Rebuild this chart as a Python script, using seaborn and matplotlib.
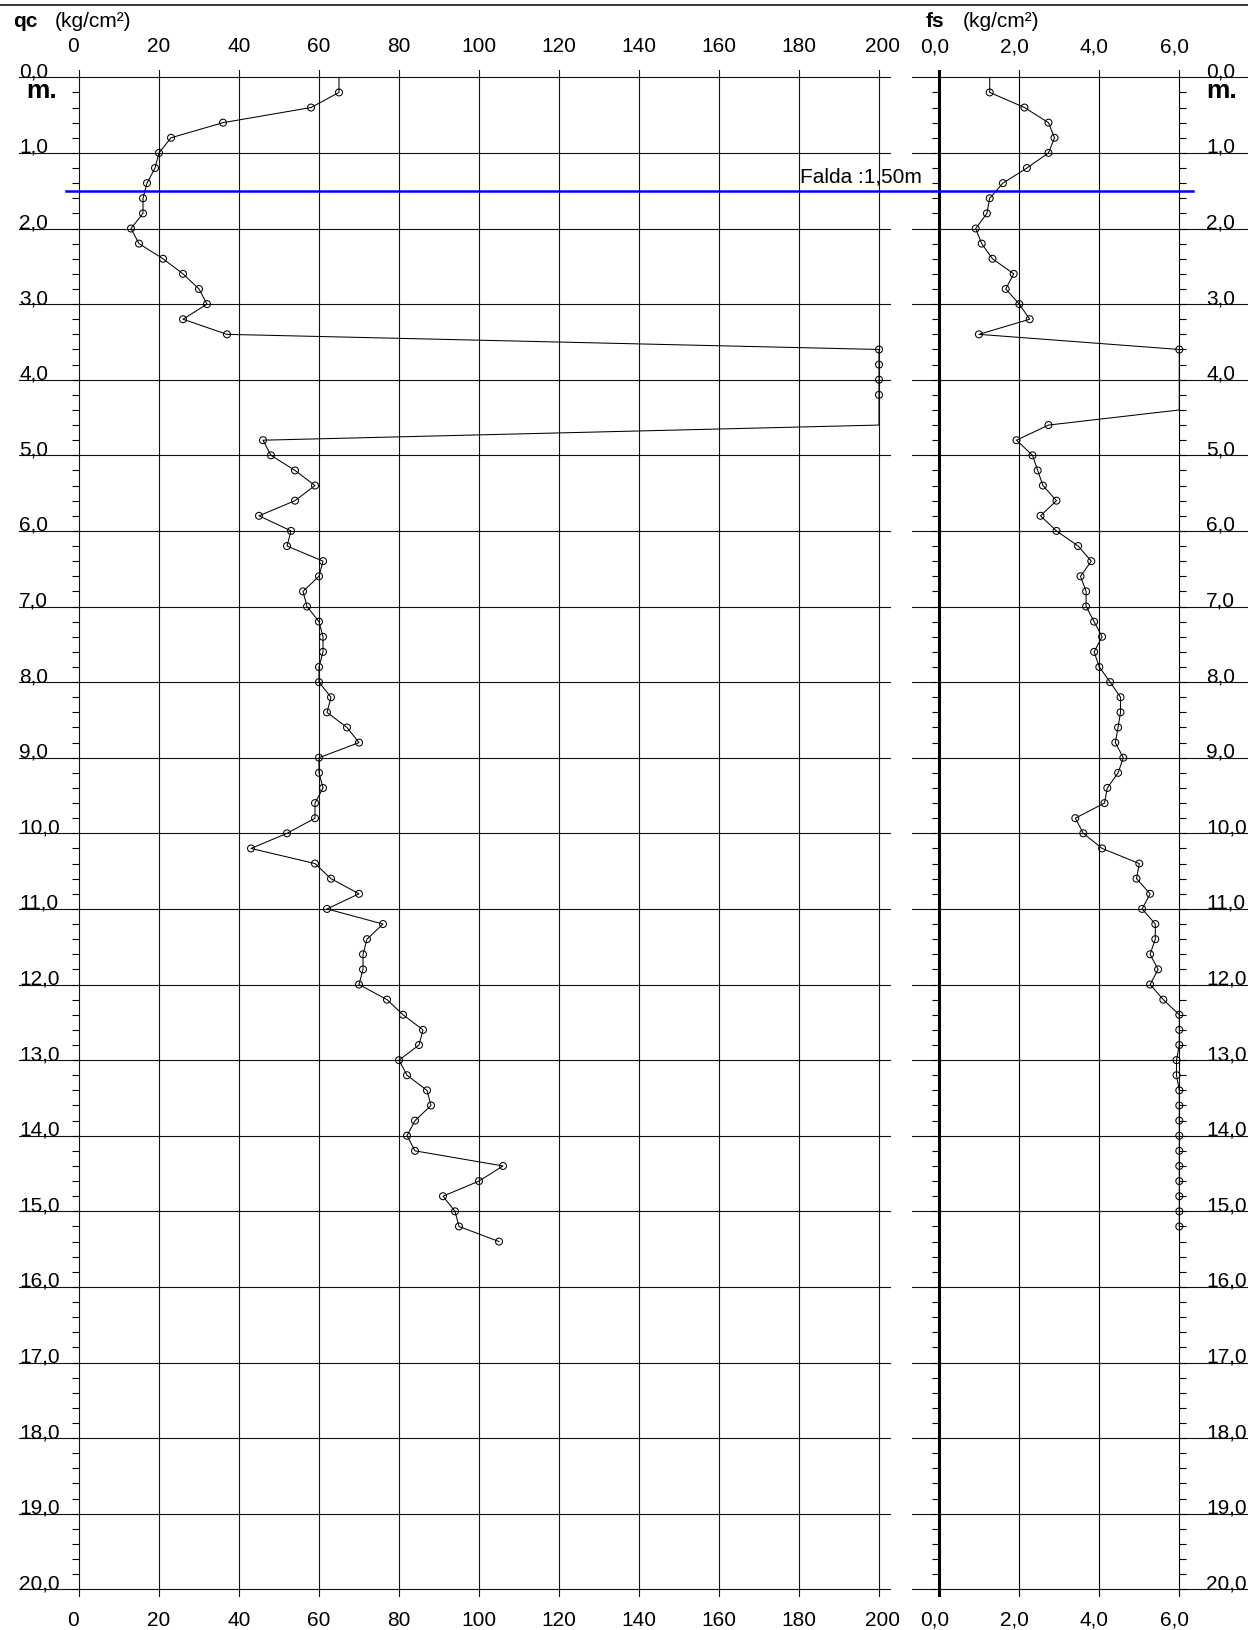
import numpy as np
import matplotlib
matplotlib.use("Agg")
import matplotlib.pyplot as plt
import matplotlib.transforms as mtransforms
from matplotlib.lines import Line2D
import seaborn as sns

plt.rcParams['font.family'] = ['Liberation Sans', 'DejaVu Sans']

# Ensayo de penetracion: lecturas cada 0,20 m (nan = fuera de escala)
# qc (kg/cm2), una fila por metro
qc = [65, 58, 36, 23, 20,
      19, 17, 16, 16, 13,
      15, 21, 26, 30, 32,
      26, 37, 200, 200, 200,
      200, np.nan, np.nan, 46, 48,
      54, 59, 54, 45, 53,
      52, 61, 60, 56, 57,
      60, 61, 61, 60, 60,
      63, 62, 67, 70, 60,
      60, 61, 59, 59, 52,
      43, 59, 63, 70, 62,
      76, 72, 71, 71, 70,
      77, 81, 86, 85, 80,
      82, 87, 88, 84, 82,
      84, 106, 100, 91, 94,
      95, 105]

# fs (kg/cm2)
fs = [1.26, 2.13, 2.73, 2.88, 2.73,
      2.19, 1.59, 1.26, 1.19, 0.91,
      1.06, 1.33, 1.86, 1.66, 2.00,
      2.26, 0.99, 6.00, np.nan, np.nan,
      np.nan, np.nan, 2.73, 1.93, 2.33,
      2.46, 2.59, 2.93, 2.53, 2.93,
      3.47, 3.80, 3.53, 3.67, 3.67,
      3.87, 4.07, 3.87, 4.00, 4.27,
      4.53, 4.53, 4.47, 4.40, 4.60,
      4.47, 4.20, 4.13, 3.40, 3.60,
      4.07, 5.00, 4.93, 5.27, 5.07,
      5.40, 5.40, 5.27, 5.47, 5.27,
      5.60, 6.00, 6.00, 6.00, 5.93,
      5.93, 6.00, 6.00, 6.00, 6.00,
      6.00, 6.00, 6.00, 6.00, 6.00,
      6.00]

step = 0.2
qc_depth = [round(step * (i + 1), 1) for i in range(len(qc))]
fs_depth = [round(step * (i + 1), 1) for i in range(len(fs))]

qc_ticks = [0, 20, 40, 60, 80, 100, 120, 140, 160, 180, 200]
fs_ticks = [0.0, 2.0, 4.0, 6.0]
fs_ticklabels = ['0,0', '2,0', '4,0', '6,0']
depth_lines = list(range(0, 21))
qc_max = 200
fs_max = 6.0
falda = 1.50

W, H = 1248, 1630
fig = plt.figure(figsize=(W / 100, H / 100), dpi=100)

# pixel -> figure fraction
y_top, y_bot = 69.74, 1596.9
ax1 = fig.add_axes([19 / W, 1 - y_bot / H, 872 / W, (y_bot - y_top) / H])
ax2 = fig.add_axes([912 / W, 1 - y_bot / H, 336 / W, (y_bot - y_top) / H])

fsz = 15
minor_depths = [round(step * i, 1) for i in range(1, 101)]

for ax in (ax1, ax2):
    ax.set_ylim(20.1, -0.1)
    for s in ax.spines.values():
        s.set_visible(False)
    ax.set_yticks(minor_depths)
    ax.tick_params(axis='y', which='both', length=5, width=0.8, color='black',
                   direction='out', labelleft=False, labelright=False)
    ax.tick_params(axis='x', length=0, pad=9.8, labelsize=fsz,
                   top=False, bottom=False, labeltop=True, labelbottom=True)
    for d in depth_lines:
        ax.axhline(d, color='#111111', lw=0.8, zorder=1)

# ---- panel qc
ax1.set_xlim(-15, 203)
ax1.spines['left'].set_position(('data', 0))
ax1.tick_params(axis='y', left=True, right=False)
ax1.set_xticks(qc_ticks)
ax1.set_xticklabels([str(t) for t in qc_ticks])
for t in qc_ticks:
    ax1.axvline(t, color='#111111', lw=0.8, zorder=1)

qc_arr = np.array(qc, dtype=float)
qc_line = np.r_[qc_arr[0], np.where(np.isnan(qc_arr), qc_max, qc_arr)]
qc_line_depth = np.r_[0.0, qc_depth]
sns.lineplot(x=qc_line, y=qc_line_depth, sort=False, estimator=None,
             color='black', linewidth=0.75, ax=ax1, zorder=3)
sns.scatterplot(x=qc_arr, y=qc_depth, marker='o', s=25, facecolor='none',
                edgecolor='black', linewidth=0.75, ax=ax1, zorder=4)

# ---- panel fs
ax2.set_xlim(-0.6825, 7.7175)
ax2.spines['left'].set_position(('data', 0))
ax2.spines['right'].set_position(('data', fs_max))
ax2.tick_params(axis='y', left=True, right=True)
ax2.set_xticks(fs_ticks)
ax2.set_xticklabels(fs_ticklabels)
for t in fs_ticks:
    ax2.axvline(t, color='black', lw=2.2 if t == 0 else 0.8, zorder=1)

fs_arr = np.array(fs, dtype=float)
fs_line = np.r_[fs_arr[0], np.where(np.isnan(fs_arr), fs_max, fs_arr)]
fs_line_depth = np.r_[0.0, fs_depth]
sns.lineplot(x=fs_line, y=fs_line_depth, sort=False, estimator=None,
             color='black', linewidth=0.75, ax=ax2, zorder=3)
sns.scatterplot(x=fs_arr, y=fs_depth, marker='o', s=25, facecolor='none',
                edgecolor='black', linewidth=0.75, ax=ax2, zorder=4)

for ax in (ax1, ax2):
    ax.set_ylim(20.1, -0.1)
    ax.set_xlabel('')
    ax.set_ylabel('')

# small horizontal nudges of the scale labels, as in the original sheet
def nudge(lbl, px):
    lbl.set_transform(lbl.get_transform() + mtransforms.ScaledTranslation(px / 100, 0, fig.dpi_scale_trans))

for tk, val in zip(ax1.xaxis.get_major_ticks(), qc_ticks):
    if val == 0:
        nudge(tk.label1, -6)
        nudge(tk.label2, -6)
    elif val == qc_max:
        nudge(tk.label1, 4)
        nudge(tk.label2, 4)
for tk in ax2.xaxis.get_major_ticks():
    nudge(tk.label1, -5)
    nudge(tk.label2, -5)

# depth labels
for d in depth_lines:
    ax1.text(-15, d, f"{d},0", ha='left', va='baseline', fontsize=fsz)
    ax2.text(6.67, d, f"{d},0", ha='left', va='baseline', fontsize=fsz)
ax1.text(-13.1, 0.27, 'm.', ha='left', va='baseline', fontsize=19, fontweight='bold')
ax2.text(6.67, 0.27, 'm.', ha='left', va='baseline', fontsize=19, fontweight='bold')

# titles
fig.text(12.7 / W, 1 - 27 / H, 'qc', fontsize=fsz, fontweight='bold', va='baseline')
fig.text(55 / W, 1 - 27 / H, '(kg/cm²)', fontsize=fsz, va='baseline')
fig.text(926 / W, 1 - 27 / H, 'fs', fontsize=fsz, fontweight='bold', va='baseline')
fig.text(962.7 / W, 1 - 27 / H, '(kg/cm²)', fontsize=fsz, va='baseline')

# top frame line
fig.add_artist(Line2D([0, 1], [1 - 5.3 / H, 1 - 5.3 / H], transform=fig.transFigure,
                      color='black', lw=1.1))

# nivel freatico
trans = mtransforms.blended_transform_factory(fig.transFigure, ax1.transData)
fig.add_artist(Line2D([65.7 / W, 1192.7 / W], [falda, falda], transform=trans,
                      color='#0000ff', lw=1.8, zorder=5))
ax2.annotate('Falda :1,50m', xy=(-0.44, falda), xytext=(0, 6), textcoords='offset points',
             ha='right', va='baseline', fontsize=fsz, annotation_clip=False)

fig.savefig('out.png', dpi=100)
